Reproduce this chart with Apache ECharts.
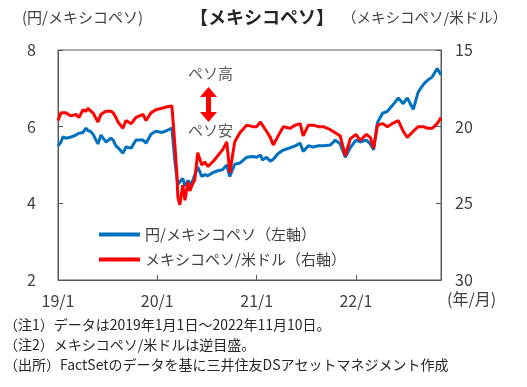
<!DOCTYPE html>
<html><head><meta charset="utf-8">
<script src="https://cdn.jsdelivr.net/npm/echarts@6/dist/echarts.min.js"></script>
<style>html,body{margin:0;padding:0;background:#fff;}#c{width:527px;height:387px;}</style>
</head><body><div id="c"></div>
<script>
const dates = [
 '2019-01-01','2019-01-12','2019-01-19','2019-01-30','2019-02-18','2019-03-08','2019-03-19','2019-04-03','2019-04-14','2019-04-21','2019-05-02','2019-05-10','2019-05-28','2019-06-08','2019-06-16','2019-06-27','2019-07-15','2019-07-23','2019-08-02','2019-08-10','2019-08-28','2019-09-08','2019-09-27','2019-10-15','2019-11-10','2019-11-21','2019-12-09','2019-12-27',
 '2020-01-19','2020-02-06','2020-02-24','2020-03-06','2020-03-13','2020-03-17','2020-03-24','2020-04-04','2020-04-12','2020-04-23','2020-04-30','2020-05-11','2020-05-18','2020-05-29','2020-06-13','2020-06-24','2020-07-05','2020-07-23','2020-08-11','2020-08-29','2020-09-13','2020-09-24','2020-10-12','2020-10-31','2020-11-25','2020-12-17',
 '2021-01-01','2021-01-15','2021-01-22','2021-02-06','2021-02-20','2021-03-03','2021-03-21','2021-04-09','2021-05-04','2021-05-23','2021-06-10','2021-06-21','2021-07-10','2021-07-28','2021-08-16','2021-09-03','2021-09-29','2021-10-17','2021-11-04','2021-11-23','2021-12-11',
 '2022-01-01','2022-01-17','2022-02-08','2022-02-23','2022-03-07','2022-03-21','2022-04-09','2022-04-27','2022-05-15','2022-06-06','2022-06-24','2022-07-09','2022-07-31','2022-08-18','2022-09-06','2022-09-20','2022-10-09','2022-10-27','2022-11-10'
];
const jpyMxn = [
 5.50,5.60,5.73,5.70,5.73,5.78,5.83,5.85,5.96,5.90,5.87,5.80,5.55,5.78,5.70,5.60,5.70,5.65,5.50,5.45,5.31,5.47,5.44,5.65,5.65,5.57,5.80,5.88,
 5.85,5.90,5.96,5.10,4.70,4.50,4.45,4.65,4.45,4.60,4.50,4.60,4.65,4.95,4.70,4.75,4.72,4.80,4.85,4.88,5.00,4.70,5.02,5.05,5.20,5.22,
 5.20,5.26,5.13,5.20,5.10,5.15,5.30,5.39,5.45,5.50,5.57,5.35,5.50,5.47,5.50,5.50,5.52,5.65,5.55,5.20,5.45,
 5.65,5.60,5.65,5.55,5.40,6.10,6.35,6.40,6.55,6.75,6.60,6.75,6.45,6.90,7.10,7.20,7.30,7.52,7.35
];
const mxnUsd = [
 19.6,19.1,19.2,19.1,19.3,19.2,19.4,18.9,19.0,18.8,19.0,19.1,19.7,19.2,19.1,19.0,19.0,19.1,19.4,19.7,20.1,19.6,19.8,19.4,19.2,19.6,19.1,18.9,
 18.8,18.7,18.65,21.2,23.0,24.6,25.1,23.8,24.8,23.6,24.2,23.7,23.5,21.7,22.5,22.3,22.6,22.3,21.9,21.5,21.0,23.0,21.0,20.4,19.9,20.0,
 20.0,19.7,19.7,20.3,20.7,21.2,20.6,20.0,20.1,19.9,19.8,20.6,19.9,19.9,20.0,20.0,20.2,20.4,20.6,21.9,20.8,
 20.5,20.9,20.5,20.7,21.4,19.9,19.8,20.0,19.8,19.6,20.3,20.7,20.3,20.0,20.0,20.1,20.1,19.8,19.4
];
const xTicks = ['2019-01-01','2020-01-01','2021-01-01','2022-01-01'];
const xTickLabels = ['19/1','20/1','21/1','22/1'];
const xEnd = '2022-11-10';
const seriesNames = ['円/メキシコペソ（左軸）','メキシコペソ/米ドル（右軸）'];
const notes = ['（注1）データは2019年1月1日～2022年11月10日。','（注2）メキシコペソ/米ドルは逆目盛。','（出所）FactSetのデータを基に三井住友DSアセットマネジメント作成'];

const F = '"Noto Sans CJK JP", "Noto Sans", sans-serif';
const ts = d => Date.UTC(+d.slice(0,4), +d.slice(5,7) - 1, +d.slice(8,10));
const tickTimes = xTicks.map(ts);
const chart = echarts.init(document.getElementById('c'));
const axisCol = '#595959';
chart.setOption({
  animation: false,
  grid: {left: 58, right: 86, top: 50, bottom: 107, show: true, borderColor: axisCol, borderWidth: 1},
  xAxis: {
    type: 'value',
    min: tickTimes[0],
    max: ts(xEnd),
    axisLine: {lineStyle: {color: axisCol}},
    axisTick: {show: true, inside: true, length: 5, lineStyle: {color: axisCol}, customValues: tickTimes},
    axisLabel: {customValues: tickTimes, color: '#404040', fontSize: 16, fontFamily: F, margin: 13,
      formatter: v => { const i = tickTimes.indexOf(v); return i >= 0 ? xTickLabels[i] : ''; }},
    splitLine: {show: false}
  },
  yAxis: [
    {type: 'value', min: 2, max: 8, interval: 2, position: 'left',
     axisLine: {show: true, lineStyle: {color: axisCol}},
     axisTick: {show: true, inside: true, length: 5, lineStyle: {color: axisCol}},
     axisLabel: {color: '#404040', fontSize: 16, fontFamily: F, margin: 22},
     splitLine: {show: false}},
    {type: 'value', min: 15, max: 30, interval: 5, position: 'right', inverse: true,
     axisLine: {show: true, lineStyle: {color: axisCol}},
     axisTick: {show: true, inside: true, length: 5, lineStyle: {color: axisCol}},
     axisLabel: {color: '#404040', fontSize: 16, fontFamily: F, margin: 14},
     splitLine: {show: false}}
  ],
  legend: {
    orient: 'vertical', left: 94, top: 222, itemWidth: 41, itemHeight: 4, itemGap: 10,
    icon: 'rect',
    textStyle: {fontSize: 15, fontFamily: F, color: '#404040'},
    data: seriesNames
  },
  series: [
    {name: seriesNames[0], type: 'line', yAxisIndex: 0, showSymbol: false, symbol: 'none',
     lineStyle: {color: '#0070C0', width: 3}, itemStyle: {color: '#0070C0'},
     data: dates.map((d, i) => [ts(d), jpyMxn[i]])},
    {name: seriesNames[1], type: 'line', yAxisIndex: 1, showSymbol: false, symbol: 'none',
     lineStyle: {color: '#FF0000', width: 3}, itemStyle: {color: '#FF0000'},
     data: dates.map((d, i) => [ts(d), mxnUsd[i]])}
  ],
  graphic: [
    {type: 'text', left: 190, top: 8, style: {text: '【メキシコペソ】', font: 'bold 18px ' + F, fill: '#262626'}},
    {type: 'text', left: 22, top: 10, style: {text: '(円/メキシコペソ)', font: '15px ' + F, fill: '#404040'}},
    {type: 'text', left: 342, top: 10, style: {text: '（メキシコペソ/米ドル）', font: '14.5px ' + F, fill: '#404040'}},
    {type: 'text', left: 447, top: 291, style: {text: '(年/月)', font: '16px ' + F, fill: '#404040'}},
    {type: 'text', left: 188, top: 66, style: {text: 'ペソ高', font: '15px ' + F, fill: '#595959'}},
    {type: 'text', left: 188, top: 123, style: {text: 'ペソ安', font: '15px ' + F, fill: '#595959'}},
    {type: 'rect', shape: {x: 206, y: 95, width: 5, height: 19}, style: {fill: '#FF0000'}},
    {type: 'polygon', shape: {points: [[200, 97], [217, 97], [208.5, 87]]}, style: {fill: '#FF0000'}},
    {type: 'polygon', shape: {points: [[200, 112], [217, 112], [208.5, 122]]}, style: {fill: '#FF0000'}},
    {type: 'text', left: 4, top: 318, style: {text: notes[0], font: '14px ' + F, fill: '#262626'}},
    {type: 'text', left: 4, top: 338, style: {text: notes[1], font: '14px ' + F, fill: '#262626'}},
    {type: 'text', left: 4, top: 358, style: {text: notes[2], font: '14px ' + F, fill: '#262626'}}
  ]
});
</script></body></html>
